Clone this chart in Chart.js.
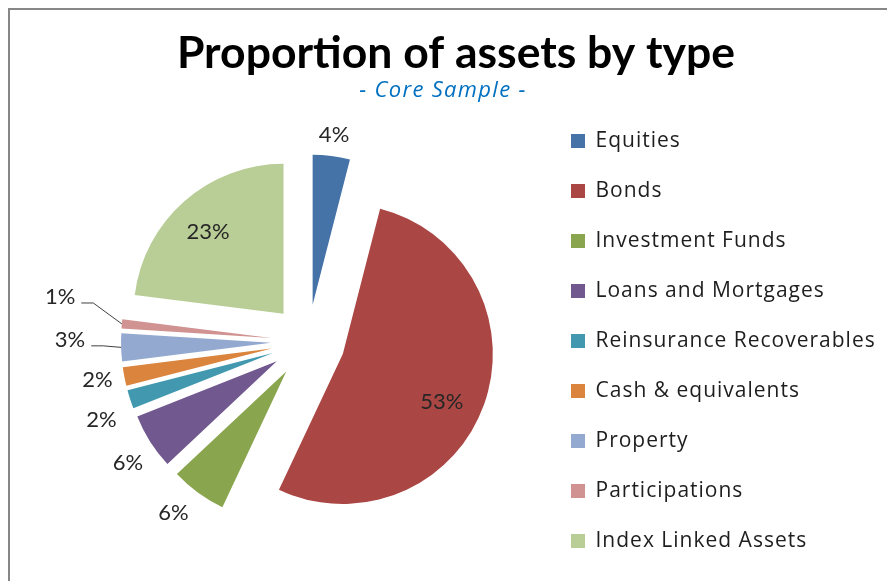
<!DOCTYPE html>
<html>
<head>
<meta charset="utf-8">
<script src="https://cdn.jsdelivr.net/npm/chart.js@4/dist/chart.umd.min.js"></script>
<style>
  html, body { margin: 0; padding: 0; background: #fff; overflow: hidden; }
  #wrap { position: relative; width: 887px; height: 581px; overflow: hidden; }
</style>
</head>
<body>
<div id="wrap"><canvas id="chart" width="920" height="600"></canvas></div>
<script>
const categories = ['Equities', 'Bonds', 'Investment Funds', 'Loans and Mortgages', 'Reinsurance Recoverables',
  'Cash & equivalents', 'Property', 'Participations', 'Index Linked Assets']
const shares = [4, 53, 6, 6, 2, 2, 3, 1, 23]
const sliceColors = ['#4572A7', '#AA4643', '#89A54E', '#71588F', '#4198AF', '#DB843D', '#93A9CF', '#D19392', '#B9CD96']
const titleText = 'Proportion of assets by type'
const subtitleText = '- Core Sample -'

// every slice is pulled out of the pie by this much (px)
const EXPLODE = 37
// where the % labels sit: distance from the slice centre and a small angle nudge (deg)
const labelDist = [171, 110, 181, 180, 184, 177, 201, 215, 111]
const labelTurn = [0, 6, 2.6, -1.8, -3.3, 0.5, 2.6, 5.6, -1.4]
const withLeader = [false, false, false, false, false, false, true, true, false]

const LEGEND_FONT = { family: 'Open Sans', size: 21 }
const LEGEND_SPACING = '1px'
const LEGEND_PAD = 29
const LEGEND_BOX = 14
const legendLeft = 542

// legend width is known only from the text, so work out the right padding from it
const probe = document.createElement('canvas').getContext('2d')
probe.font = LEGEND_FONT.size + 'px "' + LEGEND_FONT.family + '"'
probe.letterSpacing = LEGEND_SPACING
const widest = Math.max(...categories.map(c => probe.measureText(c).width))
const legendWidth = LEGEND_PAD + LEGEND_BOX + LEGEND_FONT.size / 2 + widest + 10
const padRight = 920 - legendLeft - legendWidth

const frame = {
  id: 'frame',
  beforeDraw(chart) {
    const ctx = chart.ctx
    ctx.save()
    ctx.fillStyle = '#fff'
    ctx.fillRect(0, 0, chart.width, chart.height)
    ctx.fillStyle = '#878787'
    ctx.fillRect(8, 8, chart.width, 2)
    ctx.fillRect(8, 8, 2, chart.height)
    ctx.textAlign = 'center'
    ctx.textBaseline = 'alphabetic'
    ctx.fillStyle = '#000'
    ctx.font = 'bold 44.5px Lato'
    ctx.fillText(titleText, 456, 68)
    ctx.fillStyle = '#0070C0'
    ctx.font = 'italic 22px "Open Sans"'
    ctx.letterSpacing = '1.3px'
    ctx.fillText(subtitleText, 443, 97)
    ctx.restore()
  }
}

// the reference legend text runs wide: loosen it while the legend is measured and drawn
const legendSpacing = {
  id: 'legendSpacing',
  beforeLayout(chart) { chart.ctx.letterSpacing = LEGEND_SPACING },
  afterLayout(chart) { chart.ctx.letterSpacing = '0px' },
  beforeDraw(chart) { chart.ctx.letterSpacing = LEGEND_SPACING },
  beforeDatasetsDraw(chart) { chart.ctx.letterSpacing = '0px' }
}

const explode = {
  id: 'explode',
  beforeDatasetDraw(chart, args) {
    const ctx = chart.ctx
    args.meta.data.forEach(arc => {
      const mid = (arc.startAngle + arc.endAngle) / 2
      ctx.save()
      ctx.translate(Math.cos(mid) * EXPLODE, Math.sin(mid) * EXPLODE)
      arc.draw(ctx)
      ctx.restore()
    })
    return false
  }
}

const sliceLabels = {
  id: 'sliceLabels',
  afterDatasetsDraw(chart) {
    const ctx = chart.ctx
    const meta = chart.getDatasetMeta(0)
    const total = shares.reduce((a, b) => a + b, 0)
    ctx.save()
    ctx.font = '22px Lato'
    ctx.fillStyle = '#262626'
    ctx.strokeStyle = '#404040'
    ctx.lineWidth = 1
    ctx.textAlign = 'center'
    ctx.textBaseline = 'middle'
    meta.data.forEach((arc, i) => {
      const mid = (arc.startAngle + arc.endAngle) / 2
      const cx = arc.x + Math.cos(mid) * EXPLODE
      const cy = arc.y + Math.sin(mid) * EXPLODE
      const a = mid + labelTurn[i] * Math.PI / 180
      const lx = cx + Math.cos(a) * labelDist[i]
      const ly = cy + Math.sin(a) * labelDist[i]
      const txt = Math.round(shares[i] / total * 100) + '%'
      ctx.fillText(txt, lx, ly)
      if (withLeader[i]) {
        const w = ctx.measureText(txt).width
        const x0 = lx + w / 2 + 6
        const y0 = ly + 6
        ctx.beginPath()
        ctx.moveTo(x0, y0)
        ctx.lineTo(x0 + 12, y0)
        ctx.lineTo(cx + Math.cos(mid) * arc.outerRadius, cy + Math.sin(mid) * arc.outerRadius)
        ctx.stroke()
      }
    })
    ctx.restore()
  }
}

new Chart(document.getElementById('chart'), {
  type: 'pie',
  data: {
    labels: categories,
    datasets: [{
      data: shares,
      backgroundColor: sliceColors,
      borderWidth: 0,
      radius: 150
    }]
  },
  options: {
    responsive: false,
    animation: false,
    events: [],
    layout: { padding: { left: 74, right: padRight, top: 101.5, bottom: 18.5 } },
    plugins: {
      title: { display: false },
      tooltip: { enabled: false },
      legend: {
        position: 'right',
        align: 'start',
        labels: {
          boxWidth: LEGEND_BOX,
          boxHeight: LEGEND_BOX,
          padding: LEGEND_PAD,
          color: '#1e1e1e',
          font: LEGEND_FONT
        }
      }
    }
  },
  plugins: [frame, legendSpacing, explode, sliceLabels]
})
</script>
</body>
</html>
